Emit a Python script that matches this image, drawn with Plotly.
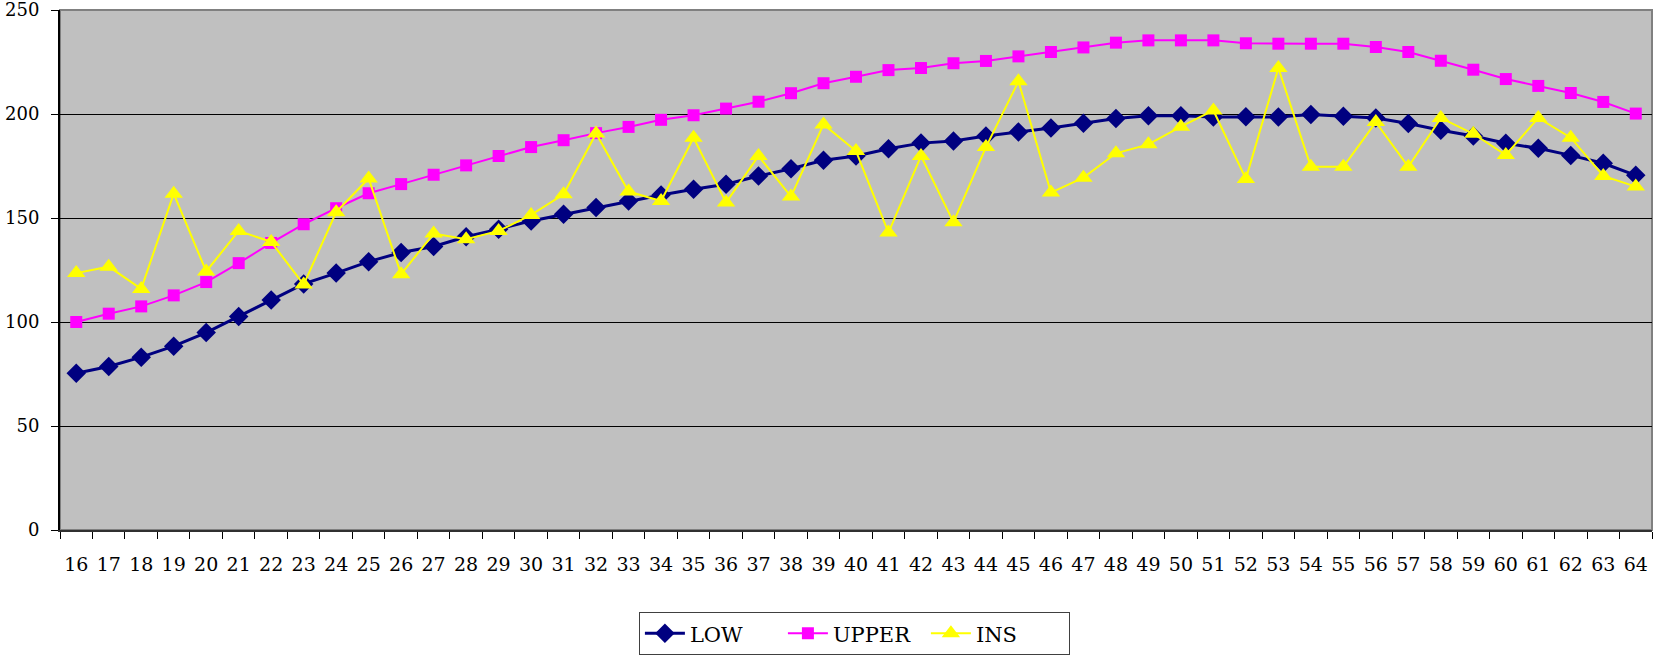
import plotly.graph_objects as go

ages = [str(a) for a in range(16, 65)]

low = [75.4, 78.6, 83.1, 88.4, 94.9, 102.6, 110.6, 118.3, 123.5, 129.0,
       133.4, 136.3, 141.0, 144.6, 148.6, 151.8, 155.0, 158.2, 161.1, 163.8,
       166.2, 170.2, 173.7, 177.8, 179.8, 183.3, 186.0, 187.0, 189.4, 191.4,
       193.3, 195.6, 197.8, 199.1, 199.1, 198.6, 198.7, 198.6, 199.7, 198.9,
       198.1, 195.4, 192.2, 189.4, 185.9, 183.5, 180.1, 176.3, 170.5]

upper = [100.0, 104.0, 107.5, 112.8, 119.2, 128.3, 138.0, 147.0, 154.7, 161.9,
         166.3, 170.8, 175.3, 179.8, 184.1, 187.4, 190.8, 193.8, 197.2, 199.4,
         202.6, 205.9, 210.0, 214.8, 217.9, 221.1, 222.1, 224.4, 225.5, 227.7,
         229.8, 232.0, 234.3, 235.4, 235.4, 235.4, 234.0, 233.8, 233.8, 233.8,
         232.2, 229.8, 225.6, 221.3, 216.8, 213.5, 210.1, 205.8, 200.2]

ins = [123.5, 126.6, 115.9, 161.7, 124.3, 143.8, 138.5, 118.0, 152.8, 169.0,
       123.0, 142.5, 139.8, 143.8, 151.5, 161.4, 190.6, 162.7, 158.2, 188.6,
       157.4, 179.8, 160.3, 195.0, 182.2, 143.0, 179.8, 148.0, 184.1, 215.7,
       162.2, 169.4, 181.1, 185.4, 193.9, 201.7, 168.8, 222.1, 174.6, 174.6,
       196.1, 174.6, 198.1, 190.5, 180.3, 198.1, 188.6, 170.2, 165.1]

y_ticks = [0, 50, 100, 150, 200, 250]

FAM = "DejaVu Serif"
font = dict(family=FAM, size=19, color="black")

fig = go.Figure()
fig.add_trace(go.Scatter(x=ages, y=low, name="LOW", mode="lines+markers",
                         line=dict(color="#000080", width=3),
                         marker=dict(symbol="diamond", size=15, color="#000080")))
fig.add_trace(go.Scatter(x=ages, y=upper, name="UPPER", mode="lines+markers",
                         line=dict(color="#FF00FF", width=2),
                         marker=dict(symbol="square", size=12, color="#FF00FF")))
fig.add_trace(go.Scatter(x=ages, y=ins, name="INS", mode="lines+markers",
                         line=dict(color="#FFFF00", width=2),
                         marker=dict(symbol="triangle-up", size=16, color="#FFFF00")))

fig.update_layout(
    width=1653, height=663,
    margin=dict(l=60, r=1, t=10, b=133, autoexpand=False),
    paper_bgcolor="white",
    plot_bgcolor="#C0C0C0",
    font=font,
    showlegend=True,
    legend=dict(orientation="h", x=0.499, xanchor="center", y=-0.158, yanchor="top",
                bgcolor="white", bordercolor="#404040", borderwidth=1,
                font=dict(family=FAM, size=21, color="black"),
                entrywidth=88, entrywidthmode="pixels",
                itemwidth=40),
    xaxis=dict(type="category", range=[-0.5, 48.5], tickson="boundaries",
               ticks="outside", ticklen=7, tickcolor="black", tickwidth=1,
               showline=True, linecolor="#303030", linewidth=2,
               showgrid=False, ticklabelstandoff=16, tickangle=0,
               automargin=False,
               tickfont=dict(family=FAM, size=19, color="black")),
    yaxis=dict(range=[0, 250], tickmode="array", tickvals=y_ticks,
               ticktext=[str(v) for v in y_ticks],
               ticks="outside", ticklen=7, tickcolor="black", tickwidth=1,
               showline=True, linecolor="black", linewidth=2,
               gridcolor="black", gridwidth=1, zeroline=False,
               ticklabelstandoff=8, ticklabeloverflow="allow",
               automargin=False,
               tickfont=dict(family=FAM, size=18, color="black")),
    shapes=[dict(type="rect", xref="paper", yref="paper", x0=0, x1=1, y0=0, y1=1,
                 line=dict(color="#808080", width=2), layer="below")],
)

fig.write_html("out.html")
